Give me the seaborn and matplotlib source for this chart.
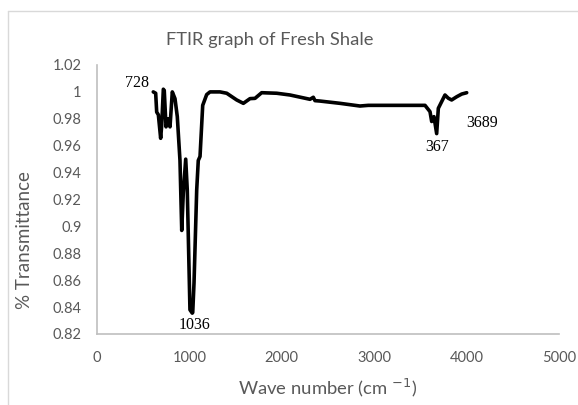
import matplotlib
matplotlib.use("Agg")
import matplotlib.pyplot as plt
import seaborn as sns
import pandas as pd
from matplotlib.lines import Line2D
from matplotlib.ticker import FuncFormatter, MultipleLocator

# FTIR spectrum of fresh shale: wave number (cm^-1) vs transmittance
wave_number = [609, 635, 646, 664, 689, 700, 718, 728, 747, 772, 790, 815, 844, 869,
               898, 917, 934, 960, 977, 1006, 1031, 1036, 1050, 1079, 1096, 1115, 1144,
               1187, 1223, 1331, 1404, 1512, 1584, 1656, 1710, 1782, 1945, 2089, 2305,
               2341, 2359, 2413, 2630, 2846, 2936, 3496, 3550, 3604, 3622, 3647, 3676,
               3694, 3766, 3802, 3838, 3893, 3947, 4001]
transmittance = [1.000, 0.999, 0.985, 0.983, 0.9655, 0.975, 1.002, 1.001, 0.974, 0.980,
                 0.974, 1.000, 0.995, 0.9816, 0.949, 0.897, 0.925, 0.950, 0.927, 0.838,
                 0.8355, 0.836, 0.858, 0.927, 0.949, 0.952, 0.990, 0.998, 1.000, 1.000,
                 0.999, 0.994, 0.9915, 0.995, 0.9952, 0.9994, 0.999, 0.9977, 0.9945,
                 0.996, 0.9935, 0.9932, 0.9915, 0.9895, 0.990, 0.990, 0.990, 0.9853,
                 0.978, 0.9816, 0.969, 0.9878, 0.9977, 0.9953, 0.994, 0.9964, 0.9984,
                 0.9994]

# Peak annotations: (text, x, y)
peak_labels = ["728", "1036", "367", "3689"]
peak_x = [433, 1050, 3676, 4170]
peak_y = [1.0066, 0.8267, 0.9593, 0.9766]

title = "FTIR graph of Fresh Shale"
x_label = "Wave number (cm $^{-1}$)"
y_label = "% Transmittance"

sns.set_theme(style="white")
plt.rcParams["font.family"] = ["Lato", "DejaVu Sans"]

df = pd.DataFrame({"wave": wave_number, "trans": transmittance})

fig = plt.figure(figsize=(5.78, 4.05), dpi=100)
ax = fig.add_axes([97 / 578, 1 - 334 / 405, (559 - 97) / 578, (334 - 65) / 405])

sns.lineplot(data=df, x="wave", y="trans", ax=ax, color="black", linewidth=2.6,
             sort=False, estimator=None)

ax.set_xlim(0, 5000)
ax.set_ylim(0.82, 1.02)
ax.xaxis.set_major_locator(MultipleLocator(1000))
ax.yaxis.set_major_locator(MultipleLocator(0.02))
ax.yaxis.set_major_formatter(FuncFormatter(lambda v, p: f"{round(v, 2):g}"))

tick_color = "#595959"
ax.tick_params(axis="both", length=0, labelsize=10.5, labelcolor=tick_color)
ax.tick_params(axis="y", pad=11)
ax.tick_params(axis="x", pad=12)

for side in ["top", "right"]:
    ax.spines[side].set_visible(False)
for side in ["left", "bottom"]:
    ax.spines[side].set_color("#bfbfbf")
    ax.spines[side].set_linewidth(1.2)

ax.set_xlabel("")
ax.set_ylabel("")
fig.text(328 / 578, 1 - 388 / 405, x_label, ha="center", va="center",
         fontsize=13.3, color=tick_color)
fig.text(25 / 578, 1 - 240 / 405, y_label, ha="center", va="center",
         rotation=90, fontsize=13.5, color=tick_color)
fig.text(270 / 578, 1 - 40 / 405, title, ha="center", va="center",
         fontsize=13.2, color=tick_color)

for lab, lx, ly in zip(peak_labels, peak_x, peak_y):
    ax.text(lx, ly, lab, ha="center", va="center", fontsize=11.5,
            family="Liberation Serif", color="black")

# Chart-area border (light gray), top and left edges
border = "#d9d9d9"
fig.add_artist(Line2D([8 / 578, 8 / 578], [0, 1 - 11 / 405], transform=fig.transFigure,
                      color=border, linewidth=1))
fig.add_artist(Line2D([8 / 578, 1], [1 - 11 / 405, 1 - 11 / 405], transform=fig.transFigure,
                      color=border, linewidth=1))

fig.savefig("out.png", dpi=100)
